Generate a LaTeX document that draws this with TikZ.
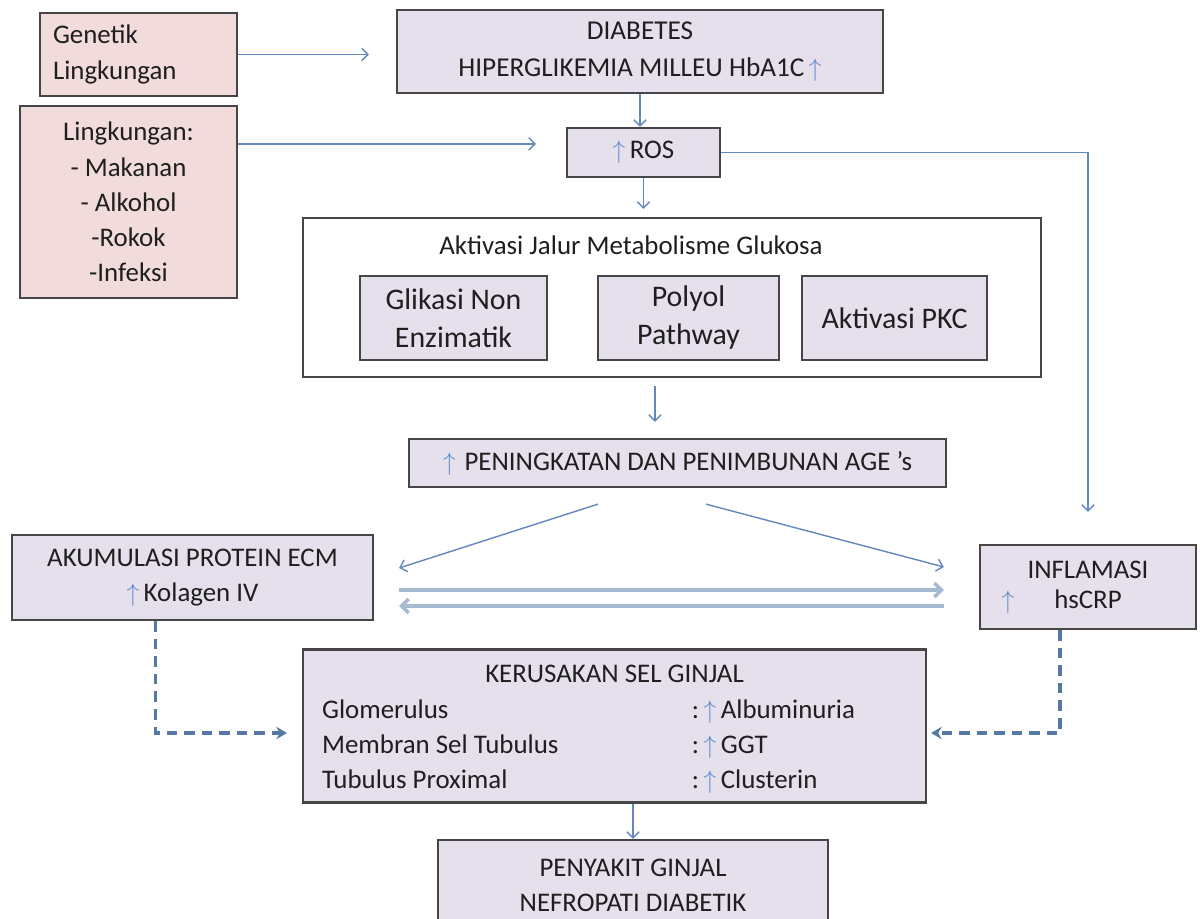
\documentclass[tikz,border=0pt]{standalone}
\usepackage{fontspec}
\setmainfont{Carlito}
\usepackage{amsmath}
\usetikzlibrary{arrows.meta, positioning, calc}

\definecolor{pinkfill}{RGB}{242,220,219}
\definecolor{lavfill}{RGB}{229,224,236}
\definecolor{boxline}{RGB}{70,70,70}
\definecolor{linkblue}{RGB}{100,135,190}
\definecolor{upblue}{RGB}{95,140,205}
\definecolor{wideblue}{RGB}{165,185,210}
\definecolor{dashblue}{RGB}{85,120,165}

% panah naik biru di dalam teks
\newcommand{\up}{\textcolor{upblue}{$\uparrow$}}

\tikzset{
    every node/.style={font=\fontsize{15.3}{20}\selectfont, text=black!88},
    pinkbox/.style={draw=boxline, line width=1.3pt, fill=pinkfill, inner sep=0pt},
    lavbox/.style={draw=boxline, line width=1.3pt, fill=lavfill, inner sep=0pt, align=center},
    whitebox/.style={draw=boxline, line width=1.3pt, fill=white, inner sep=0pt},
    pathbox/.style={lavbox, minimum height=1.68cm, font=\fontsize{17}{21.6}\selectfont},
    link/.style={draw=linkblue, line width=0.8pt, -{Straight Barb[length=3.5pt,width=7pt]}},
    wide/.style={draw=wideblue, line width=2pt, -{Straight Barb[length=4pt,width=8pt]}},
    dashlink/.style={draw=dashblue, line width=2pt, dash pattern=on 6pt off 4pt, -{Stealth[length=6pt,width=7pt]}},
}

\begin{document}
\begin{tikzpicture}[x=0.02cm, y=-0.02cm]
    \useasboundingbox (0,0) rectangle (1200,919);

    % faktor risiko
    \node[pinkbox, minimum width=3.94cm, minimum height=1.66cm, text width=3.42cm, align=left] (gen) at (138.5,54.5) {Genetik\\Lingkungan};
    \node[pinkbox, align=center, minimum width=4.34cm, minimum height=3.84cm] (ling) at (128.5,202) {Lingkungan:\\- Makanan\\- Alkohol\\-Rokok\\-Infeksi};

    % diabetes dan ROS
    \node[lavbox, minimum width=9.72cm, minimum height=1.66cm, font=\fontsize{15.5}{21}\selectfont] (diab) at (640,51.5) {DIABETES\\HIPERGLIKEMIA MILLEU HbA1C\,\up};
    \node[lavbox, minimum width=3.06cm, minimum height=0.98cm] (ros) at (643.5,152.5) {\up\,ROS};

    % jalur metabolisme glukosa
    \node[whitebox, minimum width=14.76cm, minimum height=3.18cm] (metab) at (672,297.5) {};
    \node (metabtitle) at (631,245) {Aktivasi Jalur Metabolisme Glukosa};
    \node[pathbox, minimum width=3.74cm] (glik) at (453.5,318) {Glikasi Non\\Enzimatik};
    \node[pathbox, minimum width=3.62cm] (poly) at (688.5,318) {Polyol\\Pathway};
    \node[pathbox, minimum width=3.70cm] (pkc) at (894.5,318) {Aktivasi PKC};

    \node[lavbox, minimum width=10.74cm, minimum height=0.96cm] (age) at (677.5,463) {\up\hspace{5pt}PENINGKATAN DAN PENIMBUNAN AGE 's};

    \node[lavbox, minimum width=7.22cm, minimum height=1.70cm] (aku) at (192.5,577.5) {AKUMULASI PROTEIN ECM\\\up\,Kolagen IV};
    \node[lavbox, minimum width=4.32cm, minimum height=1.68cm] (infl) at (1088,587) {INFLAMASI\\[-3pt]\llap{\up\hspace{0.8cm}}hsCRP};

    % kerusakan ginjal
    \node[lavbox, minimum width=12.46cm, minimum height=3.04cm] (ker) at (614.5,726) {%
        \begin{tabular}{@{}p{7.4cm}@{}p{4.3cm}@{}}
            \multicolumn{2}{@{}c@{}}{\rule{0pt}{19pt}KERUSAKAN SEL GINJAL}\\
            Glomerulus & :\,\up\,Albuminuria\\
            Membran Sel Tubulus & :\,\up\,GGT\\
            Tubulus Proximal & :\,\up\,Clusterin\rule[-8pt]{0pt}{0pt}
        \end{tabular}};
    \node[lavbox, minimum width=7.8cm, minimum height=1.8cm] (pen) at (633,885) {PENYAKIT GINJAL\\NEFROPATI DIABETIK};

    % panah
    \draw[link, shorten >=0.54cm] (gen.east) -- (gen.east -| diab.west);
    \coordinate (lingout) at ($(ling.north east)+(0,39)$);
    \draw[link, shorten >=0.6cm] (lingout) -- (lingout -| ros.west);
    \draw[link] (diab.south) -- (diab.south |- ros.north);
    \draw[link, shorten >=0.16cm] (ros.south) -- (ros.south |- metab.north);
    \draw[link, shorten >=0.64cm] (ros.east) -| (infl.north);
    \draw[link, shorten <=0.16cm, shorten >=0.32cm] ($(metab.south)+(-17,0)$) -- ($(age.north)+(-22.5,0)$);

    \coordinate (ageL) at ($(age.south)+(-79.5,16)$);
    \coordinate (ageR) at ($(age.south)+(28.5,16)$);
    \draw[link] (ageL) -- ($(aku.east)+(25,-9.5)$);
    \draw[link] (ageR) -- ($(infl.west)+(-35,-20)$);

    \coordinate (wideA) at ($(aku.east)+(25,12.5)$);
    \draw[wide, shorten >=0.7cm] (wideA) -- (wideA -| infl.west);
    \coordinate (wideB) at ($(infl.west)+(-35,19)$);
    \draw[wide, shorten >=0.5cm] (wideB) -- (wideB -| aku.east);

    \draw[dashlink, shorten >=0.3cm] ($(aku.south)+(-37,0)$) |- ($(ker.west)+(0,7)$);
    \draw[dashlink, shorten >=0.08cm] ($(infl.south)+(-28,0)$) |- ($(ker.east)+(0,7)$);

    \draw[link] (pen.north |- ker.south) -- (pen.north);
\end{tikzpicture}
\end{document}
